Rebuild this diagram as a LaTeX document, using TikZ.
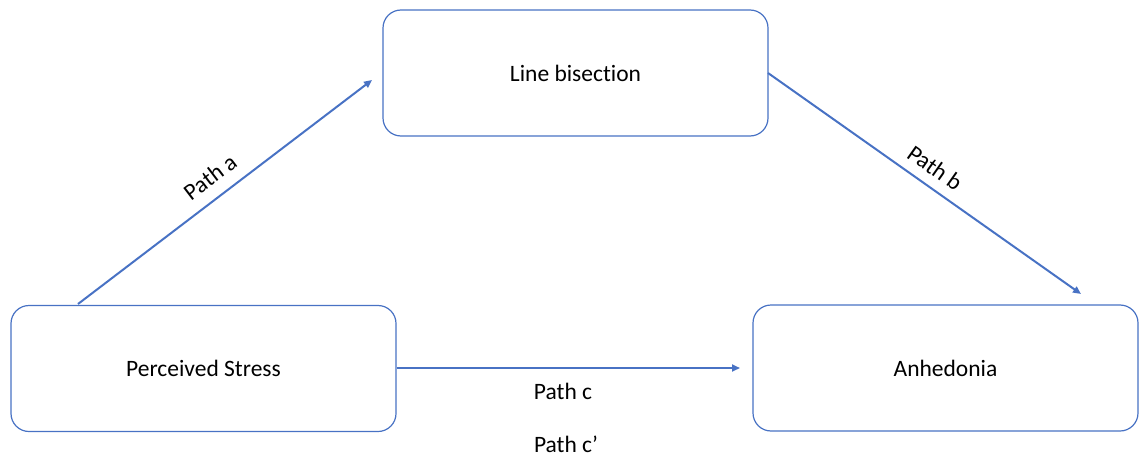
\documentclass[tikz,border=0pt]{standalone}
\usepackage{fontspec}
\setmainfont[Ligatures=NoCommon]{Carlito}
\usetikzlibrary{arrows.meta}
\definecolor{boxblue}{RGB}{72,114,196}
\tikzset{
  x=1pt, y=-1pt,
  varbox/.style={draw=boxblue, line width=1.2pt, rounded corners=18pt, fill=white,
    minimum width=385pt, minimum height=126pt, inner sep=0pt, font=\fontsize{23.5}{28}\selectfont},
  link/.style={draw=boxblue, line width=2pt, -{Triangle[length=8pt,width=7pt]}},
  lab/.style={font=\fontsize{23.5}{28}\selectfont, inner sep=0pt}
}
\begin{document}
\begin{tikzpicture}
\useasboundingbox (0,0) rectangle (1139,457);
\node[varbox] (lb) at (575.5,73) {Line bisection};
\node[varbox] (ps) at (203.5,368.5) {Perceived Stress};
\node[varbox] (an) at (945.5,368) {Anhedonia};
\coordinate (aS) at (78,304);
\coordinate (aE) at (372,80);
\coordinate (bS) at (768,73);
\coordinate (bE) at (1081,294);
\coordinate (cE) at (740,368);
\draw[link] (aS) -- (aE);
\draw[link] (bS) -- (bE);
\draw[link] (ps.east |- cE) -- (cE);
\node[lab, rotate=37.2] (pa) at (210,177) {Path a};
\node[lab, rotate=-35.2] (pb) at (935,168) {Path b};
\node[lab] (pc) at (563,391) {Path c};
\node[lab] (pcp) at (566,444.5) {Path c’};
\end{tikzpicture}
\end{document}
